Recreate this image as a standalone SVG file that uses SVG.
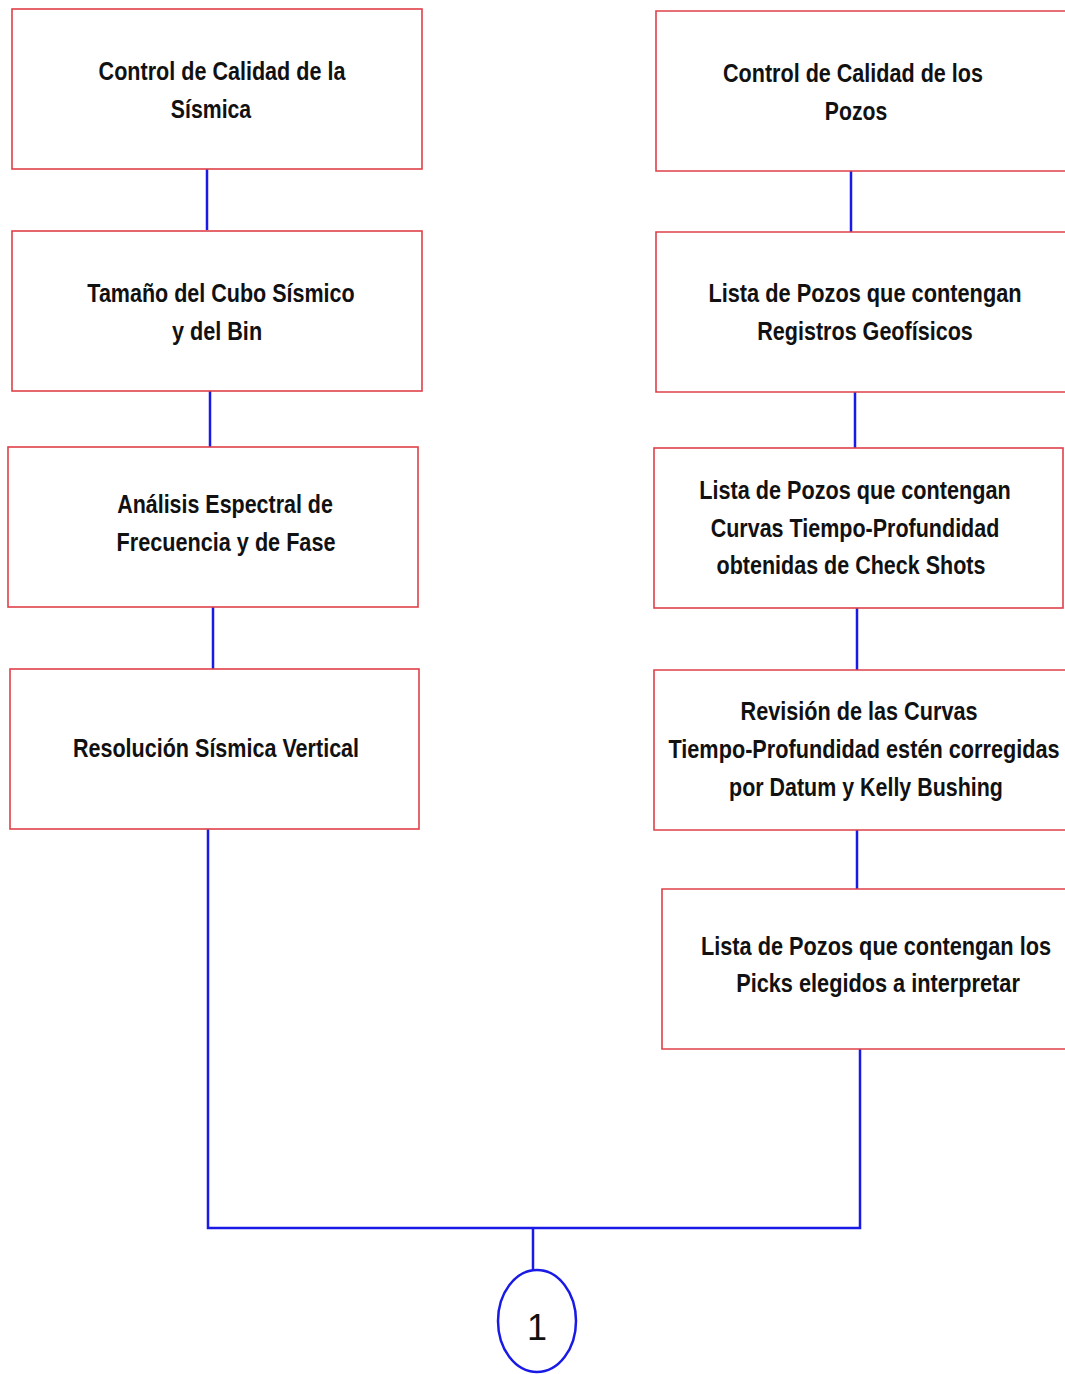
<svg xmlns="http://www.w3.org/2000/svg" width="1065" height="1374" viewBox="0 0 1065 1374">
<style>
.box{fill:#ffffff;stroke:#e0404a;stroke-width:1.6}
.bg{fill:#ffffff;stroke:none}
.edge{fill:none;stroke:#e0404a;stroke-width:1.6}
.t{font-family:"Liberation Sans",Arial,sans-serif;font-weight:bold;font-size:26px;fill:#111111;text-anchor:middle}
.c{fill:none;stroke:#1a1ae6;stroke-width:2.5}
</style>
<rect width="1065" height="1374" fill="#ffffff"/>
<g id="connectors">
<line class="c" x1="207" y1="169" x2="207" y2="230"/>
<line class="c" x1="210" y1="391" x2="210" y2="447"/>
<line class="c" x1="213" y1="607" x2="213" y2="669"/>
<line class="c" x1="851" y1="171" x2="851" y2="232"/>
<line class="c" x1="855" y1="392" x2="855" y2="448"/>
<line class="c" x1="857" y1="608" x2="857" y2="670"/>
<line class="c" x1="857" y1="830" x2="857" y2="889"/>
<polyline class="c" points="208,829 208,1228 860,1228 860,1049"/>
<line class="c" x1="533" y1="1228" x2="533" y2="1270"/>
</g>
<g id="n1"><rect class="box" x="12" y="9" width="410" height="160"/>
<text class="t" transform="matrix(0.82,0,0,1,222,80)" textLength="301" lengthAdjust="spacingAndGlyphs">Control de Calidad de la</text>
<text class="t" transform="matrix(0.82,0,0,1,211,118)" textLength="98" lengthAdjust="spacingAndGlyphs">Sísmica</text></g>
<g id="n2"><rect class="box" x="12" y="231" width="410" height="160"/>
<text class="t" transform="matrix(0.82,0,0,1,221,302)" textLength="326" lengthAdjust="spacingAndGlyphs">Tamaño del Cubo Sísmico</text>
<text class="t" transform="matrix(0.82,0,0,1,217,340)" textLength="110" lengthAdjust="spacingAndGlyphs">y del Bin</text></g>
<g id="n3"><rect class="box" x="8" y="447" width="410" height="160"/>
<text class="t" transform="matrix(0.82,0,0,1,225,513)" textLength="263" lengthAdjust="spacingAndGlyphs">Análisis Espectral de</text>
<text class="t" transform="matrix(0.82,0,0,1,226,551)" textLength="267" lengthAdjust="spacingAndGlyphs">Frecuencia y de Fase</text></g>
<g id="n4"><rect class="box" x="10" y="669" width="409" height="160"/>
<text class="t" transform="matrix(0.82,0,0,1,216,757)" textLength="349" lengthAdjust="spacingAndGlyphs">Resolución Sísmica Vertical</text></g>
<g id="n5"><rect class="bg" x="656" y="11" width="409" height="160"/>
<path class="edge" d="M1065,11 H656 V171 H1065"/>
<text class="t" transform="matrix(0.82,0,0,1,853,82)" textLength="317" lengthAdjust="spacingAndGlyphs">Control de Calidad de los</text>
<text class="t" transform="matrix(0.82,0,0,1,856,120)" textLength="76" lengthAdjust="spacingAndGlyphs">Pozos</text></g>
<g id="n6"><rect class="bg" x="656" y="232" width="409" height="160"/>
<path class="edge" d="M1065,232 H656 V392 H1065"/>
<text class="t" transform="matrix(0.82,0,0,1,865,302)" textLength="382" lengthAdjust="spacingAndGlyphs">Lista de Pozos que contengan</text>
<text class="t" transform="matrix(0.82,0,0,1,865,340)" textLength="263" lengthAdjust="spacingAndGlyphs">Registros Geofísicos</text></g>
<g id="n7"><rect class="box" x="654" y="448" width="409" height="160"/>
<text class="t" transform="matrix(0.82,0,0,1,855,499)" textLength="380" lengthAdjust="spacingAndGlyphs">Lista de Pozos que contengan</text>
<text class="t" transform="matrix(0.82,0,0,1,855,537)" textLength="352" lengthAdjust="spacingAndGlyphs">Curvas Tiempo-Profundidad</text>
<text class="t" transform="matrix(0.82,0,0,1,851,574)" textLength="328" lengthAdjust="spacingAndGlyphs">obtenidas de Check Shots</text></g>
<g id="n8"><rect class="bg" x="654" y="670" width="411" height="160"/>
<path class="edge" d="M1065,670 H654 V830 H1065"/>
<text class="t" transform="matrix(0.82,0,0,1,859,720)" textLength="289" lengthAdjust="spacingAndGlyphs">Revisión de las Curvas</text>
<text class="t" transform="matrix(0.82,0,0,1,864,758)" textLength="477" lengthAdjust="spacingAndGlyphs">Tiempo-Profundidad estén corregidas</text>
<text class="t" transform="matrix(0.82,0,0,1,866,796)" textLength="334" lengthAdjust="spacingAndGlyphs">por Datum y Kelly Bushing</text></g>
<g id="n9"><rect class="bg" x="662" y="889" width="403" height="160"/>
<path class="edge" d="M1065,889 H662 V1049 H1065"/>
<text class="t" transform="matrix(0.82,0,0,1,876,955)" textLength="427" lengthAdjust="spacingAndGlyphs">Lista de Pozos que contengan los</text>
<text class="t" transform="matrix(0.82,0,0,1,878,992)" textLength="346" lengthAdjust="spacingAndGlyphs">Picks elegidos a interpretar</text></g>
<g id="n10"><ellipse cx="537" cy="1321" rx="39" ry="51" fill="#ffffff" stroke="#1a1ae6" stroke-width="2.5"/>
<text x="537" y="1340" font-family="Liberation Sans,Arial,sans-serif" font-size="36" fill="#111111" text-anchor="middle">1</text></g>
</svg>
